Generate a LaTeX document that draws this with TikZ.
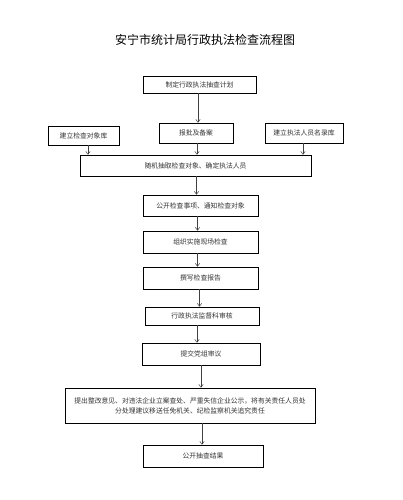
\documentclass[tikz,border=0pt]{standalone}
\usepackage{fontspec}
\newfontfamily\cjk{Noto Sans CJK SC}
\usetikzlibrary{arrows.meta}
\begin{document}
\begin{tikzpicture}[x=1pt,y=1pt,
  box/.style={draw=black,line width=0.6pt,fill=white,inner sep=1pt,align=center,font=\cjk\fontsize{6.8}{10}\selectfont,text=black!80},
  arr/.style={draw=black!75,line width=0.5pt,-{Straight Barb[length=3pt,width=4.5pt]}}]
\useasboundingbox (0,0) rectangle (403,-500);
\node[font=\cjk\fontsize{12}{14}\selectfont] (title) at (205,-40) {安宁市统计局行政执法检查流程图};
\node[box,minimum width=113,minimum height=17] (b1) at (199.5,-84.5) {制定行政执法抽查计划};
\node[box,minimum width=71,minimum height=19] (b2l) at (83.5,-135.5) {建立检查对象库};
\node[box,minimum width=74,minimum height=20] (b2m) at (196,-133) {报批及备案};
\node[box,minimum width=78,minimum height=20] (b2r) at (304,-133) {建立执法人员名录库};
\node[box,minimum width=231,minimum height=21] (b3) at (195.5,-165.5) {随机抽取检查对象、确定执法人员};
\node[box,minimum width=115,minimum height=21] (b4) at (200.5,-205.5) {公开检查事项、通知检查对象};
\node[box,minimum width=115,minimum height=22] (b5) at (200.5,-242) {组织实施现场检查};
\node[box,minimum width=115,minimum height=22] (b6) at (200.5,-278) {撰写检查报告};
\node[box,minimum width=114,minimum height=18] (b7) at (202,-316) {行政执法监督科审核};
\node[box,minimum width=118,minimum height=22] (b8) at (201,-354) {提交党组审议};
\node[box,minimum width=250,minimum height=35] (b9) at (190,-405.5) {提出整改意见、对违法企业立案查处、严重失信企业公示，将有关责任人员处\\分处理建议移送任免机关、纪检监察机关追究责任};
\node[box,minimum width=120,minimum height=22] (b10) at (203,-456) {公开抽查结果};
\draw[arr] ([xshift=-1.5pt]b1.south) -- ([xshift=-1.5pt]b1.south |- b2m.north);
\draw[arr] ([xshift=4.5pt]b2l.south) -- ([xshift=4.5pt]b2l.south |- b3.north);
\draw[arr] ([xshift=1pt]b2m.south) -- ([xshift=1pt]b2m.south |- b3.north);
\draw[arr] ([xshift=-1pt]b2r.south) -- ([xshift=-1pt]b2r.south |- b3.north);
\draw[arr] ([xshift=1pt]b3.south) -- ([xshift=1pt]b3.south |- b4.north);
\draw[arr] ([xshift=-3pt]b4.south) -- ([xshift=-3pt]b4.south |- b5.north);
\draw[arr] ([xshift=-3pt]b5.south) -- ([xshift=-3pt]b5.south |- b6.north);
\draw[arr] ([xshift=-1pt]b6.south) -- ([xshift=-1pt]b6.south |- b7.north);
\draw[arr] ([xshift=-5pt]b7.south) -- ([xshift=-5pt]b7.south |- b8.north);
\draw[arr] (b8.south) -- (b8.south |- b9.north);
\draw[arr] ([xshift=12pt]b9.south) -- ([xshift=12pt]b9.south |- b10.north);
\end{tikzpicture}
\end{document}
